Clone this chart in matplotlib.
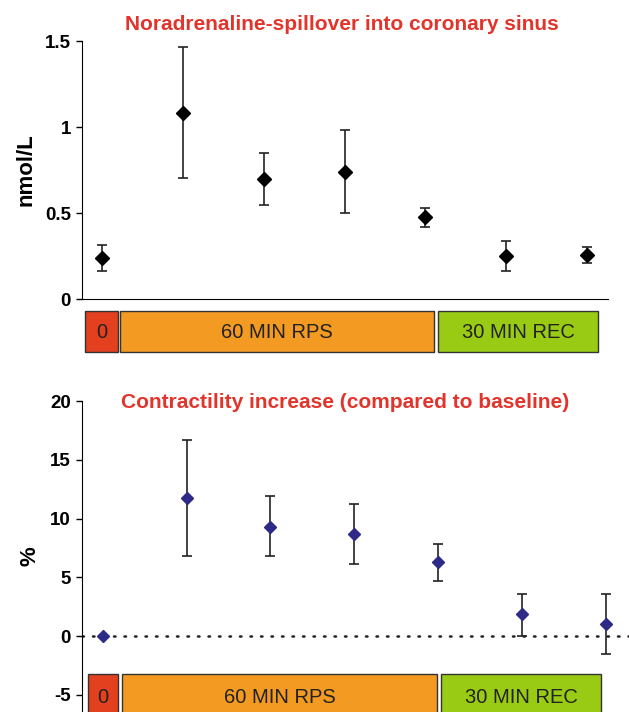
import numpy as np
import matplotlib.pyplot as plt
from matplotlib.patches import Rectangle

plt.rcParams['font.family'] = ['Liberation Sans', 'DejaVu Sans']
plt.rcParams['axes.unicode_minus'] = False

# time points (index) and values
idx = np.arange(7)

na_mean = [0.238, 1.081, 0.698, 0.738, 0.477, 0.250, 0.256]
na_hi = [0.314, 1.465, 0.849, 0.983, 0.530, 0.337, 0.302]
na_lo = [0.163, 0.703, 0.547, 0.500, 0.419, 0.163, 0.209]

con_mean = [0.0, 11.74, 9.3, 8.7, 6.3, 1.87, 1.0]
con_hi = [0.0, 16.7, 11.9, 11.2, 7.8, 3.6, 3.6]
con_lo = [0.0, 6.8, 6.8, 6.1, 4.7, 0.0, -1.5]

phase_labels = ['0', '60 MIN RPS', '30 MIN REC']
phase_colors = ['#e2401f', '#f39a22', '#9acb14']
# phase spans along the time-point axis
top_spans = [(-0.21, 0.19), (0.22, 4.11), (4.16, 6.14)]
bot_spans = [(-0.18, 0.18), (0.23, 3.99), (4.03, 5.95)]

title_col = '#e3342b'

W, H = 629, 712
fig = plt.figure(figsize=(W / 100, H / 100), dpi=100)


def fig_axes(x0, y0, x1, y1):
    return fig.add_axes([x0 / W, 1 - y1 / H, (x1 - x0) / W, (y1 - y0) / H])


def errs(m, lo, hi):
    m = np.array(m)
    return [m - np.array(lo), np.array(hi) - m]


# ---- top panel
ax1 = fig_axes(82, 41, 608, 299)
ax1.errorbar(idx, na_mean, yerr=errs(na_mean, na_lo, na_hi), fmt='D', color='black',
             ms=7, ecolor='#222222', elinewidth=1.2, capsize=3.5, capthick=1.2)
ax1.set_xlim(-0.25, 6.26)
ax1.set_ylim(0, 1.5)
ax1.set_yticks([0, 0.5, 1, 1.5])
ax1.set_yticklabels(['0', '0.5', '1', '1.5'])
ax1.set_xticks([])
ax1.spines['top'].set_visible(False)
ax1.spines['right'].set_visible(False)
ax1.set_ylabel('nmol/L', fontsize=16, fontweight='bold', labelpad=6)
ax1.tick_params(axis='y', labelsize=13.5, length=4, width=1, pad=4)
for t in ax1.get_yticklabels():
    t.set_fontweight('bold')
fig.text(342 / W, 1 - 25 / H, 'Noradrenaline-spillover into coronary sinus', color=title_col,
         fontsize=15, fontweight='bold', ha='center', va='center')

trans1 = ax1.get_xaxis_transform()
for (s, e), lab, c in zip(top_spans, phase_labels, phase_colors):
    ax1.add_patch(Rectangle((s, -0.205), e - s, 0.158, transform=trans1, facecolor=c,
                            edgecolor='#333333', lw=1, clip_on=False))
    ax1.text((s + e) / 2, -0.13, lab, transform=trans1, ha='center', va='center',
             fontsize=14.5, color='#222222')

# ---- bottom panel
ax2 = fig_axes(82, 401, 629, 712)
ax2.axhline(0, color='#222222', lw=1.8, linestyle=(0, (0.6, 3.6)), dash_capstyle='round')
ax2.errorbar(idx, con_mean, yerr=errs(con_mean, con_lo, con_hi), fmt='D', color='#2e2a88',
             ms=6, ecolor='#222222', elinewidth=1.2, capsize=3.5, capthick=1.2, zorder=3)
ax2.set_xlim(-0.25, 6.28)
ax2.set_ylim(-6.45, 20)
ax2.set_yticks([-5, 0, 5, 10, 15, 20])
ax2.set_xticks([])
for sp in ['top', 'right', 'bottom']:
    ax2.spines[sp].set_visible(False)
ax2.set_ylabel('%', fontsize=16, fontweight='bold', labelpad=7)
ax2.tick_params(axis='y', labelsize=13.5, length=4, width=1, pad=4)
for t in ax2.get_yticklabels():
    t.set_fontweight('bold')
fig.text(345 / W, 1 - 403 / H, 'Contractility increase (compared to baseline)', color=title_col,
         fontsize=15, fontweight='bold', ha='center', va='center')

for (s, e), lab, c in zip(bot_spans, phase_labels, phase_colors):
    ax2.add_patch(Rectangle((s, -8), e - s, 8 - 3.23, facecolor=c,
                            edgecolor='#333333', lw=1, clip_on=False, zorder=2))
    ax2.text((s + e) / 2, -5.2, lab, ha='center', va='center',
             fontsize=14.5, color='#222222', zorder=3)

fig.savefig('out.png', dpi=100)
